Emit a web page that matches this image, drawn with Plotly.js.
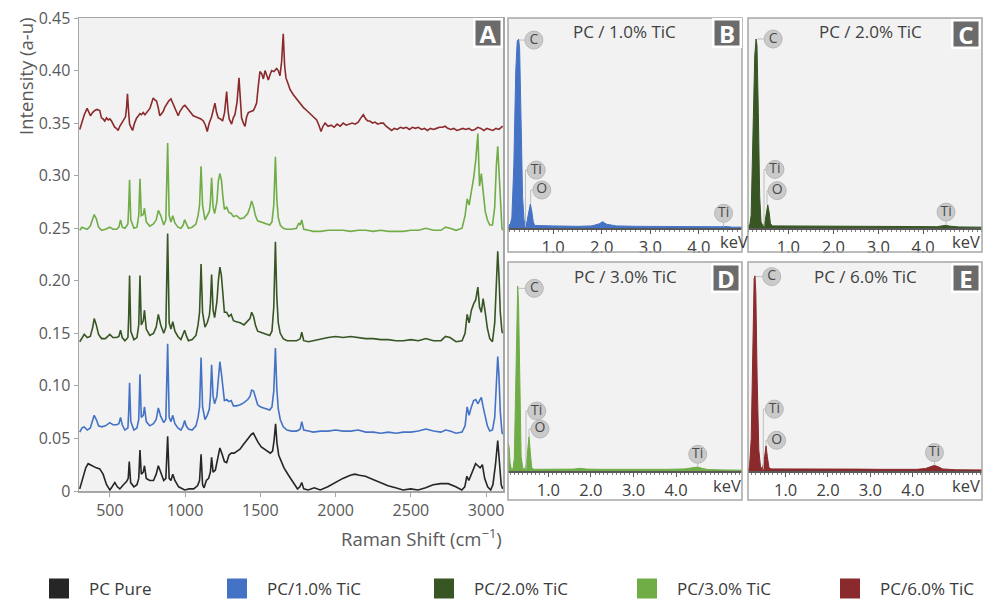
<!DOCTYPE html>
<html><head><meta charset="utf-8">
<script src="https://cdn.plot.ly/plotly-3.0.1.min.js"></script>
<style>html,body{margin:0;padding:0;background:#fff;} #chart{width:986px;height:601px;}</style>
</head><body><div id="chart"></div>
<script>
// ---------- Raman data (panel A) ----------
const pureShift = [300,320,340,356,380,410,433,455,478,500,515,533,550,566,590,611,622,629,638,660,680,692,700,709,722,730,742,765,790,808,822,838,858,872,884,894,906,918,932,957,982,997,1027,1057,1082,1096,1106,1116,1126,1141,1156,1168,1176,1186,1201,1216,1231,1246,1261,1276,1291,1306,1326,1346,1366,1386,1406,1426,1441,1453,1466,1486,1506,1526,1546,1566,1581,1591,1601,1610,1622,1637,1657,1687,1717,1747,1762,1775,1788,1818,1858,1898,1948,1998,2048,2098,2128,2158,2198,2248,2298,2348,2398,2448,2498,2548,2598,2648,2698,2748,2798,2838,2858,2872,2885,2900,2915,2930,2945,2960,2975,2990,3010,3030,3045,3062,3077,3088,3100,3110];
const pureInt = [0.002,0.012,0.022,0.026,0.024,0.022,0.021,0.016,0.006,0.001,0.004,0.008,0.004,0.002,0.006,0.009,0.012,0.028,0.008,0.004,0.006,0.012,0.039,0.016,0.018,0.024,0.012,0.010,0.010,0.016,0.024,0.018,0.010,0.012,0.052,0.012,0.010,0.016,0.010,0.004,0.002,0.001,0.002,0.002,0.005,0.010,0.035,0.006,0.003,0.010,0.012,0.018,0.032,0.018,0.020,0.030,0.041,0.035,0.028,0.027,0.034,0.036,0.036,0.038,0.040,0.044,0.048,0.052,0.054,0.055,0.051,0.046,0.042,0.040,0.038,0.036,0.038,0.048,0.064,0.046,0.034,0.028,0.022,0.015,0.008,0.002,0.004,0.008,0.002,0.001,0.003,0.001,0.004,0.008,0.012,0.015,0.016,0.015,0.014,0.011,0.008,0.005,0.003,0.001,0.002,0.001,0.003,0.006,0.007,0.007,0.004,0.001,0.004,0.014,0.010,0.016,0.022,0.026,0.024,0.022,0.025,0.012,0.004,0.001,0.006,0.025,0.048,0.030,0.006,0.002];

const ticShift = [300,315,330,350,370,385,396,410,425,445,470,500,520,545,560,571,582,600,620,625,631,639,660,680,692,700,709,722,730,742,765,790,808,822,838,858,872,884,894,906,918,932,952,972,987,997,1007,1022,1047,1072,1086,1096,1106,1116,1132,1147,1161,1168,1176,1186,1196,1211,1221,1231,1241,1251,1261,1276,1291,1306,1321,1341,1366,1391,1416,1431,1442,1455,1467,1482,1502,1522,1542,1562,1577,1589,1600,1609,1619,1632,1652,1677,1707,1740,1755,1765,1775,1788,1820,1850,1900,1950,2000,2050,2100,2150,2200,2250,2300,2350,2400,2450,2500,2550,2600,2650,2700,2730,2760,2800,2840,2860,2874,2887,2902,2917,2931,2945,2956,2968,2980,2994,3008,3024,3042,3057,3068,3077,3085,3094,3105,3110];
const tic1Int = [0.056,0.060,0.061,0.058,0.060,0.068,0.072,0.068,0.062,0.061,0.062,0.065,0.063,0.063,0.064,0.070,0.063,0.058,0.060,0.075,0.103,0.066,0.058,0.060,0.068,0.111,0.070,0.072,0.080,0.066,0.062,0.064,0.068,0.079,0.071,0.065,0.068,0.140,0.070,0.066,0.072,0.064,0.060,0.058,0.062,0.067,0.062,0.059,0.058,0.062,0.070,0.080,0.127,0.080,0.068,0.072,0.078,0.090,0.120,0.090,0.083,0.090,0.110,0.123,0.112,0.098,0.086,0.087,0.085,0.086,0.081,0.081,0.082,0.084,0.087,0.090,0.096,0.095,0.088,0.082,0.080,0.079,0.078,0.077,0.080,0.095,0.136,0.098,0.078,0.068,0.061,0.058,0.057,0.057,0.058,0.059,0.066,0.058,0.057,0.056,0.057,0.057,0.058,0.057,0.057,0.058,0.056,0.056,0.055,0.056,0.055,0.056,0.056,0.057,0.059,0.057,0.056,0.058,0.057,0.055,0.056,0.062,0.080,0.072,0.080,0.086,0.087,0.083,0.086,0.089,0.080,0.071,0.062,0.057,0.058,0.070,0.105,0.128,0.110,0.075,0.056,0.054];
const tic2Int = [0.142,0.146,0.149,0.146,0.147,0.155,0.164,0.158,0.149,0.145,0.145,0.149,0.146,0.146,0.147,0.153,0.146,0.143,0.146,0.165,0.205,0.152,0.144,0.146,0.158,0.205,0.158,0.162,0.172,0.154,0.148,0.150,0.156,0.168,0.158,0.150,0.156,0.245,0.160,0.154,0.161,0.152,0.147,0.144,0.149,0.153,0.148,0.143,0.144,0.148,0.158,0.170,0.216,0.170,0.156,0.160,0.167,0.178,0.206,0.172,0.165,0.180,0.200,0.213,0.205,0.186,0.170,0.170,0.166,0.168,0.162,0.161,0.160,0.158,0.162,0.164,0.170,0.166,0.158,0.152,0.151,0.150,0.149,0.148,0.152,0.175,0.237,0.185,0.160,0.150,0.145,0.143,0.143,0.143,0.144,0.145,0.151,0.143,0.142,0.143,0.145,0.146,0.147,0.146,0.147,0.146,0.145,0.145,0.144,0.144,0.143,0.143,0.144,0.143,0.145,0.143,0.143,0.147,0.146,0.142,0.143,0.150,0.168,0.160,0.172,0.178,0.182,0.194,0.175,0.170,0.183,0.170,0.155,0.145,0.142,0.160,0.200,0.228,0.205,0.170,0.152,0.150];
const tic3Int = [0.248,0.251,0.250,0.249,0.252,0.258,0.263,0.259,0.251,0.248,0.249,0.251,0.249,0.249,0.251,0.258,0.251,0.250,0.254,0.270,0.296,0.258,0.250,0.251,0.262,0.297,0.262,0.263,0.269,0.256,0.252,0.254,0.258,0.267,0.262,0.253,0.258,0.331,0.262,0.256,0.262,0.255,0.251,0.250,0.253,0.258,0.254,0.250,0.251,0.254,0.262,0.272,0.309,0.272,0.258,0.262,0.266,0.275,0.298,0.270,0.264,0.275,0.295,0.302,0.296,0.280,0.268,0.270,0.265,0.264,0.261,0.262,0.259,0.260,0.264,0.270,0.276,0.270,0.262,0.257,0.256,0.255,0.254,0.253,0.256,0.272,0.318,0.278,0.260,0.253,0.250,0.249,0.249,0.250,0.255,0.253,0.258,0.249,0.248,0.247,0.247,0.248,0.248,0.248,0.247,0.248,0.248,0.247,0.248,0.247,0.247,0.247,0.248,0.248,0.250,0.248,0.248,0.251,0.250,0.248,0.250,0.262,0.278,0.272,0.285,0.298,0.315,0.340,0.290,0.302,0.285,0.266,0.258,0.253,0.253,0.270,0.310,0.328,0.305,0.275,0.250,0.248];

const sixShift = [300,315,330,349,360,371,385,400,415,433,444,455,466,478,490,500,511,522,533,544,555,566,577,590,604,611,617,624,631,641,651,664,678,690,700,710,722,733,744,755,766,777,788,799,810,821,832,843,854,865,876,891,906,919,932,943,954,965,977,988,999,1010,1021,1035,1054,1070,1088,1105,1121,1135,1147,1160,1176,1188,1198,1209,1220,1235,1249,1262,1276,1285,1293,1309,1320,1331,1345,1358,1366,1375,1387,1398,1409,1420,1436,1453,1464,1475,1486,1497,1509,1520,1531,1542,1553,1564,1575,1590,1608,1619,1630,1641,1652,1661,1670,1683,1697,1719,1741,1763,1785,1808,1830,1852,1874,1889,1903,1916,1930,1950,1970,1990,2010,2030,2050,2070,2090,2110,2130,2150,2168,2184,2200,2214,2228,2245,2262,2280,2300,2317,2335,2355,2372,2390,2410,2430,2450,2470,2490,2510,2530,2550,2570,2590,2610,2630,2650,2670,2690,2710,2727,2745,2765,2785,2805,2825,2845,2865,2885,2905,2925,2945,2965,2985,3005,3025,3045,3065,3085,3100,3110];
const sixInt = [0.344,0.352,0.358,0.364,0.360,0.357,0.360,0.362,0.363,0.362,0.355,0.354,0.352,0.355,0.353,0.354,0.352,0.349,0.346,0.345,0.343,0.347,0.350,0.352,0.356,0.365,0.378,0.362,0.349,0.346,0.343,0.350,0.355,0.357,0.359,0.358,0.360,0.358,0.360,0.362,0.364,0.369,0.374,0.372,0.371,0.365,0.357,0.359,0.361,0.365,0.368,0.371,0.373,0.369,0.365,0.361,0.357,0.361,0.364,0.366,0.367,0.365,0.362,0.360,0.357,0.356,0.355,0.354,0.352,0.348,0.342,0.350,0.356,0.362,0.369,0.360,0.355,0.354,0.352,0.360,0.380,0.362,0.354,0.349,0.355,0.358,0.370,0.393,0.368,0.355,0.350,0.347,0.356,0.360,0.361,0.362,0.365,0.369,0.385,0.399,0.397,0.392,0.400,0.396,0.391,0.396,0.400,0.399,0.402,0.400,0.395,0.408,0.435,0.405,0.393,0.388,0.382,0.377,0.373,0.368,0.365,0.362,0.359,0.356,0.353,0.348,0.342,0.347,0.350,0.347,0.348,0.346,0.349,0.347,0.350,0.348,0.349,0.350,0.349,0.351,0.355,0.358,0.354,0.352,0.352,0.350,0.351,0.349,0.350,0.350,0.347,0.345,0.343,0.345,0.344,0.346,0.345,0.346,0.344,0.346,0.345,0.346,0.344,0.345,0.343,0.345,0.344,0.345,0.346,0.346,0.347,0.345,0.344,0.345,0.343,0.344,0.345,0.344,0.345,0.343,0.344,0.346,0.345,0.343,0.345,0.344,0.343,0.345,0.344,0.346,0.347];

const ramanXTicks = [500,1000,1500,2000,2500,3000];
const ramanYTicks = [0,0.05,0.10,0.15,0.20,0.25,0.30,0.35,0.40,0.45];
const ramanYText = ['0','0.05','0.10','0.15','0.20','0.25','0.30','0.35','0.40','0.45'];

const seriesNames = ['PC Pure','PC/1.0% TiC','PC/2.0% TiC','PC/3.0% TiC','PC/6.0% TiC'];
const seriesColors = ['#262626','#4472C4','#375623','#70AD47','#8B2A2C'];

// ---------- EDS data (panels B-E), energy in keV, relative counts ----------
const edsB_keV = [0.07,0.12,0.15,0.19,0.23,0.26,0.29,0.31,0.34,0.37,0.40,0.43,0.46,0.50,0.53,0.56,0.59,0.62,0.8,1.0,1.5,1.8,1.95,2.02,2.1,2.3,2.7,3.2,3.8,4.3,4.45,4.51,4.58,4.7,4.89];
const edsB_cts = [0.010,0.020,0.050,0.300,0.750,0.890,0.900,0.850,0.500,0.150,0.040,0.010,0.030,0.090,0.114,0.080,0.030,0.012,0.010,0.010,0.008,0.010,0.020,0.030,0.018,0.010,0.008,0.007,0.006,0.005,0.006,0.008,0.006,0.004,0.004];
const edsC_keV = [0.10,0.14,0.17,0.21,0.25,0.28,0.30,0.33,0.36,0.39,0.43,0.47,0.51,0.54,0.57,0.60,0.65,0.9,1.3,1.8,2.3,2.8,3.3,3.8,4.3,4.45,4.51,4.58,4.8,5.31];
const edsC_cts = [0.010,0.015,0.060,0.450,0.820,0.900,0.870,0.550,0.150,0.030,0.010,0.020,0.080,0.110,0.075,0.020,0.010,0.010,0.010,0.009,0.008,0.008,0.007,0.007,0.006,0.010,0.013,0.009,0.005,0.004];
const edsD_keV = [0.052,0.06,0.08,0.10,0.13,0.17,0.20,0.24,0.27,0.28,0.30,0.33,0.36,0.40,0.44,0.48,0.51,0.546,0.58,0.61,0.66,0.9,1.2,1.45,1.6,1.74,1.9,2.3,2.8,3.3,3.8,4.2,4.4,4.51,4.62,4.75,5.1,5.55];
const edsD_cts = [0.050,0.133,0.110,0.040,0.008,0.010,0.060,0.500,0.860,0.885,0.800,0.350,0.070,0.012,0.008,0.030,0.110,0.164,0.080,0.015,0.008,0.008,0.008,0.011,0.009,0.013,0.009,0.008,0.007,0.007,0.008,0.010,0.014,0.019,0.012,0.007,0.005,0.004];
const edsE_keV = [0.115,0.15,0.19,0.23,0.26,0.28,0.30,0.33,0.37,0.41,0.45,0.49,0.52,0.54,0.57,0.61,0.66,0.9,1.2,1.5,1.8,2.2,2.7,3.2,3.7,4.1,4.3,4.4,4.51,4.6,4.7,5.0,5.63];
const edsE_cts = [0.010,0.020,0.150,0.700,0.920,0.934,0.850,0.450,0.100,0.020,0.012,0.040,0.100,0.120,0.070,0.015,0.010,0.010,0.011,0.012,0.011,0.010,0.009,0.008,0.008,0.008,0.012,0.020,0.027,0.020,0.010,0.006,0.005];
const edsRanges = [[0.07,4.89],[0.10,5.31],[0.052,5.55],[0.115,5.63]];
const edsTicks = [1,2,3,4];
const edsTickText = ['1.0','2.0','3.0','4.0'];
const edsTitles = ['PC / 1.0% TiC','PC / 2.0% TiC','PC / 3.0% TiC','PC / 6.0% TiC'];
const panelLetters = ['A','B','C','D','E'];

// element labels: name, label centre (keV, rel), leader polyline
const elemNames = ['C','Ti','O','Ti'];
const labB_x = [0.603,0.652,0.766,4.51], labB_y = [0.895,0.276,0.181,0.07];
const labC_x = [0.66,0.70,0.75,4.51],   labC_y = [0.90,0.279,0.178,0.076];
const labD_x = [0.67,0.727,0.804,4.51], labD_y = [0.874,0.287,0.201,0.08];
const labE_x = [0.674,0.735,0.79,4.51], labE_y = [0.93,0.296,0.147,0.088];
const leadB_x = [0.31,0.603,null,0.43,0.43,0.652,null,0.537,0.537,0.766,null,4.51,4.51];
const leadB_y = [0.895,0.895,null,0.006,0.276,0.276,null,0.114,0.181,0.181,null,0.006,0.07];
const leadC_x = [0.31,0.66,null,0.456,0.456,0.70,null,0.523,0.523,0.75,null,4.51,4.51];
const leadC_y = [0.90,0.90,null,0.008,0.279,0.279,null,0.11,0.178,0.178,null,0.013,0.076];
const leadD_x = [0.30,0.67,null,0.475,0.475,0.727,null,0.546,0.546,0.804,null,4.51,4.51];
const leadD_y = [0.874,0.874,null,0.008,0.287,0.287,null,0.164,0.201,0.201,null,0.019,0.08];
const leadE_x = [0.30,0.674,null,0.476,0.476,0.735,null,0.54,0.54,0.79,null,4.51,4.51];
const leadE_y = [0.93,0.93,null,0.008,0.296,0.296,null,0.12,0.147,0.147,null,0.027,0.088];

// ---------- layout helpers ----------
const W = 986, H = 601;
const px = x => x / W;
const py = y => 1 - y / H;
const FONT = 'Open Sans, Noto Sans, sans-serif';
const TXT = '#404040';

const traces = [];
const ramanX = [pureShift, ticShift, ticShift, ticShift, sixShift];
const ramanY = [pureInt, tic1Int, tic2Int, tic3Int, sixInt];
for (let i = 0; i < 5; i++) {
  traces.push({type:'scatter', mode:'lines', x: ramanX[i], y: ramanY[i], xaxis:'x', yaxis:'y',
    line:{color: seriesColors[i], width:1.6}, showlegend:false, hoverinfo:'skip'});
}
const edsX = [edsB_keV, edsC_keV, edsD_keV, edsE_keV];
const edsY = [edsB_cts, edsC_cts, edsD_cts, edsE_cts];
const labX = [labB_x, labC_x, labD_x, labE_x];
const labY = [labB_y, labC_y, labD_y, labE_y];
const leadX = [leadB_x, leadC_x, leadD_x, leadE_x];
const leadY = [leadB_y, leadC_y, leadD_y, leadE_y];
for (let k = 0; k < 4; k++) {
  const xa = 'x' + (k + 2), ya = 'y' + (k + 2);
  traces.push({type:'scatter', mode:'lines', x: edsX[k], y: edsY[k], xaxis: xa, yaxis: ya,
    fill:'tozeroy', fillcolor: seriesColors[k + 1], line:{color: seriesColors[k + 1], width:1},
    showlegend:false, hoverinfo:'skip'});
  traces.push({type:'scatter', mode:'lines', x: leadX[k], y: leadY[k], xaxis: xa, yaxis: ya,
    line:{color:'#bdbdbd', width:1}, showlegend:false, hoverinfo:'skip', connectgaps:false});
  traces.push({type:'scatter', mode:'markers+text', x: labX[k], y: labY[k], xaxis: xa, yaxis: ya,
    text: elemNames, textposition:'middle center', textfont:{family: FONT, size:14, color:'#4a4a4a'},
    marker:{size:18, color:'#cacaca', line:{color:'#b8b8b8', width:1}},
    showlegend:false, hoverinfo:'skip', cliponaxis:false});
}
// legend entries
const legendLeft = [29, 207, 414, 617, 820];
for (let i = 0; i < 5; i++) {
  traces.push({type:'scatter', mode:'markers', x:[null], y:[null], xaxis:'x', yaxis:'y',
    name: seriesNames[i], legend: i === 0 ? 'legend' : 'legend' + (i + 1),
    marker:{symbol:'square', size:16, color: seriesColors[i], line:{color: seriesColors[i], width:4}}});
}

const axisLine = '#a6a6a6';
const layout = {
  width: W, height: H, margin:{l:0, r:0, t:0, b:0, autoexpand:false},
  paper_bgcolor:'#ffffff', plot_bgcolor:'#f2f2f2',
  font:{family: FONT, color: TXT},
  showlegend: true,
  xaxis:{domain:[px(79), px(503)], range:[295, 3112], anchor:'y', tickvals: ramanXTicks,
    ticks:'outside', ticklen:4, tickcolor: axisLine, showline:true, linecolor: axisLine, linewidth:1.5,
    mirror:true, zeroline:false, showgrid:false, tickfont:{size:16, color:'#595959'}},
  yaxis:{domain:[py(491), py(18)], range:[0, 0.45], anchor:'x', tickvals: ramanYTicks, ticktext: ramanYText,
    ticks:'outside', ticklen:4, tickcolor: axisLine, showline:true, linecolor: axisLine, linewidth:1.5,
    mirror:true, zeroline:false, showgrid:false, tickfont:{size:16, color:'#595959'}},
  annotations: [], shapes: []
};
const edsDom = [[508,742,228,18],[748,982,228,18],[508,742,471,262],[748,982,471,262]];
for (let k = 0; k < 4; k++) {
  const d = edsDom[k];
  layout['xaxis' + (k + 2)] = {domain:[px(d[0]), px(d[1])], range: edsRanges[k], anchor:'y' + (k + 2),
    tickvals: edsTicks, ticktext: edsTickText, ticks:'outside', ticklen:4, tickcolor:'#595959',
    minor:{tickmode:'linear', tick0:0, dtick:0.1, ticks:'outside', ticklen:2, tickcolor:'#7f7f7f'},
    showline:true, linecolor:'#595959', linewidth:1.5, zeroline:false, showgrid:false,
    tickfont:{size:16.5, color: TXT}};
  layout['yaxis' + (k + 2)] = {domain:[py(d[2]), py(d[3])], range:[0, 1], anchor:'x' + (k + 2),
    showticklabels:false, showline:false, zeroline:false, showgrid:false, ticks:''};
}
// legends
for (let i = 0; i < 5; i++) {
  const key = i === 0 ? 'legend' : 'legend' + (i + 1);
  layout[key] = {x: px(legendLeft[i]), xanchor:'left', y: py(589), yanchor:'middle', orientation:'h',
    itemwidth: 50, bgcolor:'rgba(0,0,0,0)', borderwidth:0, font:{family: FONT, size:17, color:'#3a3a3a'}};
}
// frames of panels B-E
const frames = [[508,18,742,252],[748,18,982,252],[508,262,742,500],[748,262,982,500]];
frames.forEach(f => layout.shapes.push({type:'rect', xref:'paper', yref:'paper', x0:px(f[0]), x1:px(f[2]),
  y0:py(f[3]), y1:py(f[1]), line:{color:'#a6a6a6', width:1.5}, fillcolor:'rgba(0,0,0,0)', layer:'above'}));

// axis titles
layout.annotations.push({text:'Intensity (a-u)', xref:'paper', yref:'paper', x:px(25), y:py(76),
  textangle:-90, showarrow:false, font:{size:18.5, color:'#595959'}, xanchor:'center', yanchor:'middle'});
layout.annotations.push({text:'Raman Shift (cm<sup>\u22121</sup>)', xref:'paper', yref:'paper', x:px(504), y:py(537),
  showarrow:false, font:{size:18.5, color:'#595959'}, xanchor:'right', yanchor:'middle'});
// panel letters
const letterPos = [[487.8,33.5],[726.5,33.5],[966,34],[726,277.5],[966,277.5]];
for (let i = 0; i < 5; i++) {
  layout.annotations.push({text:'<b>' + panelLetters[i] + '</b>', xref:'paper', yref:'paper',
    x:px(letterPos[i][0]), y:py(letterPos[i][1]), xanchor:'center', yanchor:'middle', showarrow:false,
    width:23, height:23, bgcolor:'#6b6b6b', bordercolor:'#ffffff', borderwidth:2.5, borderpad:1,
    font:{size:24, color:'#ffffff'}});
}
// EDS panel titles & keV units
const titlePos = [[624,32],[870,32],[625,276],[865,276]];
const kevPos = [[734,241],[966,241],[727,486],[966,486]];
for (let k = 0; k < 4; k++) {
  layout.annotations.push({text: edsTitles[k], xref:'paper', yref:'paper', x:px(titlePos[k][0]), y:py(titlePos[k][1]),
    xanchor:'center', yanchor:'middle', showarrow:false, font:{size:17, color: TXT}});
  layout.annotations.push({text:'keV', xref:'paper', yref:'paper', x:px(kevPos[k][0]), y:py(kevPos[k][1]),
    xanchor:'center', yanchor:'middle', showarrow:false, font:{size:16.5, color: TXT}});
}

Plotly.newPlot('chart', traces, layout, {staticPlot:true, displayModeBar:false});
</script></body></html>
